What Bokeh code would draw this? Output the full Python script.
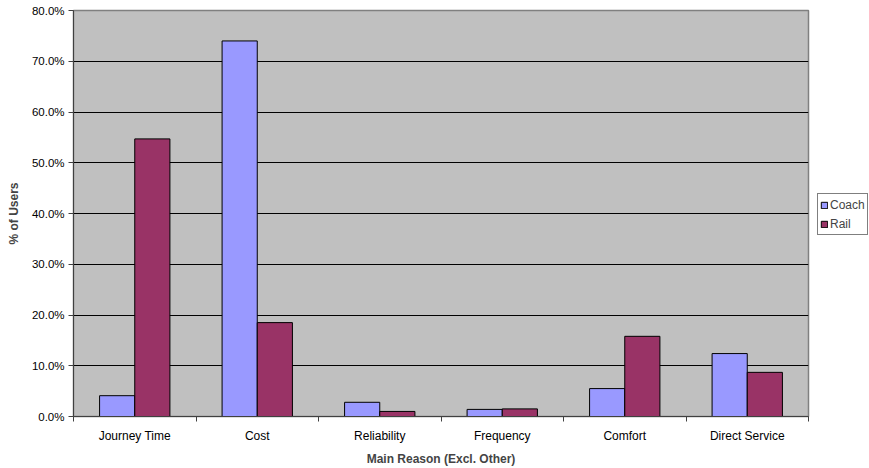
from bokeh.plotting import figure
from bokeh.layouts import row
from bokeh.models import (ColumnDataSource, Range1d, FixedTicker, NumeralTickFormatter,
                          Legend, LegendItem)
from bokeh.embed import file_html
from bokeh.resources import INLINE
import numpy as np

categories = ["Journey Time", "Cost", "Reliability", "Frequency", "Comfort", "Direct Service"]
coach = [4.1, 74.0, 2.8, 1.4, 5.5, 12.4]
rail = [54.7, 18.5, 1.0, 1.5, 15.8, 8.7]
y_ticks = [0, 10, 20, 30, 40, 50, 60, 70, 80]
series_names = ["Coach", "Rail"]
series_cols = ["coach", "rail"]
series_colors = ["#9999FF", "#993366"]

FONT = "Liberation Sans"
centers = np.arange(len(categories)) + 0.5
bar_w = 0.287

src = ColumnDataSource(dict(
    xc=centers - bar_w / 2,
    xr=centers + bar_w / 2,
    coach=np.array(coach) / 100.0,
    rail=np.array(rail) / 100.0,
))

p = figure(width=812, height=468, output_backend="svg", toolbar_location=None,
           x_range=Range1d(0, len(categories)), y_range=Range1d(0, 0.8),
           min_border_left=73, min_border_right=4, min_border_top=10, min_border_bottom=52)
p.background_fill_color = "#C0C0C0"
p.border_fill_color = "white"
p.outline_line_color = "#808080"
p.outline_line_width = 1.5

p.vbar(x="xc", top="coach", width=bar_w, source=src,
       fill_color=series_colors[0], line_color="black", line_width=1)
p.vbar(x="xr", top="rail", width=bar_w, source=src,
       fill_color=series_colors[1], line_color="black", line_width=1)

# grid
p.xgrid.visible = False
p.ygrid.ticker = FixedTicker(ticks=[t / 100.0 for t in y_ticks])
p.ygrid.grid_line_color = "black"
p.ygrid.grid_line_width = 1

# y axis
ya = p.yaxis[0]
ya.ticker = FixedTicker(ticks=[t / 100.0 for t in y_ticks])
ya.formatter = NumeralTickFormatter(format="0.0%")
ya.axis_label = "% of Users"
ya.axis_label_text_font = FONT
ya.axis_label_text_font_style = "bold"
ya.axis_label_text_font_size = "12px"
ya.axis_label_standoff = 8
ya.major_label_text_font = FONT
ya.major_label_text_font_size = "11.5px"
ya.major_label_text_color = "black"
ya.major_tick_out = 5
ya.major_tick_in = 0
ya.minor_tick_line_color = None
ya.axis_line_color = "#404040"
ya.major_tick_line_color = "#404040"
ya.major_label_standoff = 4

# x axis
xa = p.xaxis[0]
xa.ticker = FixedTicker(ticks=list(centers), minor_ticks=list(range(len(categories) + 1)))
xa.major_label_overrides = {float(c): lab for c, lab in zip(centers, categories)}
xa.major_tick_line_color = None
xa.major_tick_out = 0
xa.major_tick_in = 0
xa.minor_tick_out = 5
xa.minor_tick_in = 0
xa.minor_tick_line_color = "#404040"
xa.axis_line_color = "#404040"
xa.major_label_text_font = FONT
xa.major_label_text_font_size = "12px"
xa.major_label_text_color = "black"
xa.major_label_standoff = 7
xa.axis_label = "Main Reason (Excl. Other)"
xa.axis_label_text_font = FONT
xa.axis_label_text_font_style = "bold"
xa.axis_label_text_font_size = "12px"
xa.axis_label_standoff = 6

# legend in a small side figure (its bars lie far outside its visible ranges)
lf = figure(width=57, height=468, output_backend="svg", toolbar_location=None,
            x_range=Range1d(-101, -100), y_range=Range1d(-101, -100),
            min_border_left=0, min_border_right=0, min_border_top=0, min_border_bottom=0)
lf.axis.visible = False
lf.grid.visible = False
lf.outline_line_color = None
lf.background_fill_color = "white"
lf.border_fill_color = "white"

items = []
for name, colname, xcol, colr in zip(series_names, series_cols, ["xc", "xr"], series_colors):
    r = lf.vbar(x=xcol, top=colname, width=bar_w, source=src,
                fill_color=colr, line_color="black", line_width=1)
    items.append(LegendItem(label=name, renderers=[r]))

legend = Legend(items=items, location=(5, 181))
legend.label_text_font = FONT
legend.label_text_font_size = "12px"
legend.glyph_width = 8
legend.glyph_height = 8
legend.label_standoff = 2
legend.label_height = 17
legend.label_width = 20
legend.spacing = 2
legend.padding = 2
legend.margin = 0
legend.border_line_color = "black"
legend.border_line_width = 1
legend.background_fill_color = "white"
legend.background_fill_alpha = 1
lf.add_layout(legend, "center")

layout = row(p, lf)
open("out.html", "w").write(file_html(layout, INLINE))
